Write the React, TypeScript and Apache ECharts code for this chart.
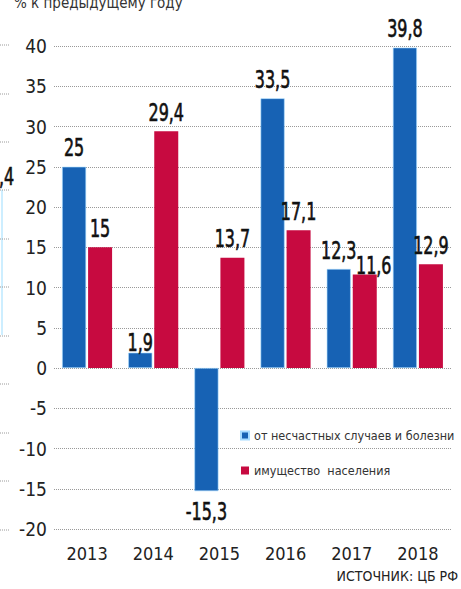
import React, { useEffect, useRef } from "react";
import * as echarts from "echarts";

const years = ["2013", "2014", "2015", "2016", "2017", "2018"];
const accidentIllness = [25, 1.9, -15.3, 33.5, 12.3, 39.8];
const propertyOfCitizens = [15, 29.4, 13.7, 17.1, 11.6, 12.9];
const seriesNames = ["от несчастных случаев и болезни", "имущество  населения"];
const titleText = "% к предыдущему году";
const sourceText = "ИСТОЧНИК: ЦБ РФ";
const leftFragmentLabel = ",4";

const NARROW = '"DejaVu Sans Condensed", "Liberation Sans", sans-serif';
const BLUE = "#1762b4";
const RED = "#c70a40";
const BAR_W = 24;
const BAR_GAP_PX = 2;

// label nudges (style only): key = seriesIndex-dataIndex -> [dx, dy]
const labelNudge: Record<string, [number, number]> = {
  "0-1": [0, 9],
  "1-4": [9, 10],
};

const fmt = (v: number) => String(v).replace(".", ",");

export default function App() {
  const ref = useRef<HTMLDivElement>(null);
  useEffect(() => {
    if (!ref.current) return;
    const chart = echarts.init(ref.current, null, { renderer: "svg" });

    const labelSeries = (values: number[], sIdx: number) => ({
      type: "custom",
      coordinateSystem: "cartesian2d",
      silent: true,
      clip: false,
      z: 10,
      encode: { x: 0, y: 1 },
      data: values.map((v, i) => [i, v]),
      renderItem: (params: any, api: any) => {
        const idx = api.value(0);
        const v = api.value(1);
        const pt = api.coord([idx, v]);
        const side = sIdx === 0 ? -(BAR_W + BAR_GAP_PX) / 2 : (BAR_W + BAR_GAP_PX) / 2;
        const n = labelNudge[`${sIdx}-${params.dataIndex}`] || [0, 0];
        const pos = v >= 0;
        return {
          type: "text",
          x: pt[0] + side + n[0],
          y: pos ? pt[1] - 7 + n[1] : pt[1] + 8 + n[1],
          scaleX: 0.74,
          style: {
            text: fmt(v),
            fontFamily: NARROW,
            fontSize: 24,
            fontWeight: "normal",
            fill: "#111",
            stroke: "#111",
            lineWidth: 0.6,
            textAlign: "center",
            textVerticalAlign: pos ? "bottom" : "top",
          },
        };
      },
    });

    const leftDots = [45, 94, 142, 190, 239, 287, 336, 384, 433, 481, 530];
    chart.setOption({
      animation: false,
      backgroundColor: "#fff",
      grid: { left: 54, top: 46, width: 397, height: 483, containLabel: false },
      legend: {
        orient: "vertical",
        left: 235,
        top: 424,
        itemWidth: 8,
        itemHeight: 8,
        itemGap: 22,
        icon: "rect",
        textStyle: { fontFamily: NARROW, fontSize: 12.5, color: "#333" },
        data: seriesNames,
      },
      xAxis: {
        type: "category",
        data: years,
        axisLine: { show: false },
        axisTick: { show: false },
        axisLabel: { fontFamily: NARROW, fontSize: 18, color: "#222", margin: 15 },
      },
      yAxis: {
        type: "value",
        min: -20,
        max: 40,
        interval: 5,
        axisLine: { show: false },
        axisTick: { show: false },
        axisLabel: { fontFamily: NARROW, fontSize: 19, color: "#222", margin: 7 },
        splitLine: { lineStyle: { type: [1, 1], color: "#999", width: 1 } },
      },
      series: [
        {
          name: seriesNames[0],
          type: "bar",
          data: accidentIllness,
          itemStyle: { color: BLUE, borderColor: "#a8dcff", borderWidth: 0.6 },
          barWidth: BAR_W,
          barGap: `${(BAR_GAP_PX / BAR_W) * 100}%`,
        },
        {
          name: seriesNames[1],
          type: "bar",
          data: propertyOfCitizens,
          itemStyle: { color: RED },
          barWidth: BAR_W,
        },
        labelSeries(accidentIllness, 0),
        labelSeries(propertyOfCitizens, 1),
      ],
      graphic: [
        {
          type: "text",
          left: 14,
          top: -5,
          style: { text: titleText, fontFamily: NARROW, fontSize: 15, fill: "#333" },
        },
        {
          type: "text",
          right: 3,
          top: 569,
          style: { text: sourceText, fontFamily: NARROW, fontSize: 14, fill: "#222" },
        },
        {
          type: "text",
          x: -1,
          y: 164,
          scaleX: 0.74,
          style: { text: leftFragmentLabel, fontFamily: NARROW, fontSize: 24, fill: "#111", stroke: "#111", lineWidth: 0.6 },
        },
        {
          type: "line",
          shape: { x1: 2, y1: 190, x2: 2, y2: 335 },
          style: { stroke: "#cdeeff", lineWidth: 2 },
        },
        ...leftDots.map((y) => ({
          type: "line",
          shape: { x1: 0, y1: y, x2: 10, y2: y },
          style: { stroke: "#9a9a9a", lineWidth: 1, lineDash: [1, 1] },
        })),
      ],
    });
    return () => chart.dispose();
  }, []);
  return <div ref={ref} style={{ width: 461, height: 589, position: "absolute", left: 0, top: 0 }} />;
}
